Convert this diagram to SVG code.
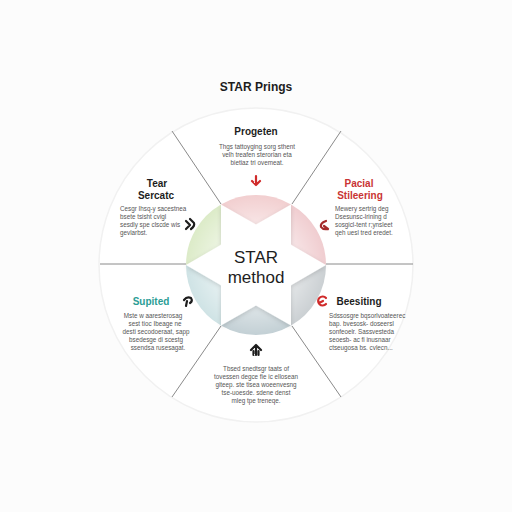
<svg xmlns="http://www.w3.org/2000/svg" width="512" height="512" viewBox="0 0 512 512">
<defs>
<style>
.ttl{font-family:"Liberation Sans",Arial,sans-serif;font-weight:bold;fill:#1d1d1d}
.hd{font-family:"Liberation Sans",Arial,sans-serif;font-weight:bold;font-size:10px}
.bd{font-family:"Liberation Sans",Arial,sans-serif;font-size:6.3px;fill:#555555}
.ctr{font-family:"Liberation Sans",Arial,sans-serif;font-size:17px;fill:#1e1e1e;text-anchor:middle}
.div{stroke:#8a8a8a;stroke-width:1;fill:none}
.ico{fill:none;stroke-width:2.2;stroke-linecap:round;stroke-linejoin:round}
</style>
<radialGradient id="fade" cx="256" cy="265" r="70" gradientUnits="userSpaceOnUse">
<stop offset="0.55" stop-color="#ffffff" stop-opacity="0.5"/>
<stop offset="1" stop-color="#ffffff" stop-opacity="0"/>
</radialGradient>
<filter id="sh" x="-20%" y="-20%" width="140%" height="140%">
<feDropShadow dx="0" dy="1.5" stdDeviation="2" flood-color="#000" flood-opacity="0.15"/>
</filter>
</defs>
<rect width="512" height="512" fill="#fcfcfc"/>
<circle cx="256" cy="265" r="157" fill="#ffffff" stroke="#f1f1f1" stroke-width="1.5"/>
<text class="ttl" x="256" y="91" font-size="12" text-anchor="middle">STAR Prings</text>

<g id="connectors">
<line class="div" x1="172" y1="131" x2="221" y2="204"/>
<line class="div" x1="341" y1="131" x2="292" y2="204"/>
<line class="div" x1="221" y1="326" x2="172" y2="397"/>
<line class="div" x1="292" y1="326" x2="341" y2="397"/>
<line class="div" x1="100" y1="264" x2="186" y2="264"/>
<line class="div" x1="326" y1="264" x2="413" y2="264"/>
</g>

<g id="hub">
<path d="M256,265 L291,204.4 A70,70 0 0 0 221,204.4 Z" fill="#f2cfd0"/>
<path d="M256,265 L326,265 A70,70 0 0 0 291,204.4 Z" fill="#f0cdd0"/>
<path d="M256,265 L221,204.4 A70,70 0 0 0 186,265 Z" fill="#dcebc8"/>
<path d="M256,265 L186,265 A70,70 0 0 0 221,325.6 Z" fill="#cfe3e5"/>
<path d="M256,265 L221,325.6 A70,70 0 0 0 291,325.6 Z" fill="#c3d0d5"/>
<path d="M256,265 L291,325.6 A70,70 0 0 0 326,265 Z" fill="#cbd0d3"/>
<circle cx="256" cy="265" r="70" fill="url(#fade)"/>
<path d="M326,265 L291,285.2 L291,325.6 L256,305.4 L221,325.6 L221,285.2 L186,265 L221,244.8 L221,204.4 L256,224.6 L291,204.4 L291,244.8 Z" fill="#ffffff" filter="url(#sh)"/>
<text class="ctr" x="256" y="263">STAR</text>
<text class="ctr" x="256" y="283">method</text>
</g>

<g id="node-top">
<text class="hd" x="256" y="135" text-anchor="middle" fill="#1d1d1d">Progeten</text>
<text class="bd" text-anchor="middle"><tspan x="257" y="149">Thgs tattoyging sorg sthent</tspan><tspan x="257" y="157">velh treafen sterorian eta</tspan><tspan x="257" y="165">bietiaz tri ovemeat.</tspan></text>
<path class="ico" stroke="#d02b2b" d="M256,176 v8 M252,181 l4,4 l4,-4"/>
</g>

<g id="node-upper-right">
<text class="hd" x="359" y="187" text-anchor="middle" fill="#c93434">Pacial</text>
<text class="hd" x="360" y="199" text-anchor="middle" fill="#c93434">Stileering</text>
<text class="bd"><tspan x="335" y="211">Mewery sertrig deg</tspan><tspan x="335" y="219">Dsesunsc-lrining d</tspan><tspan x="335" y="227">sosgicl-tent r;ynsleet</tspan><tspan x="335" y="235">qeh uesl tred eredet.</tspan></text>
<path class="ico" stroke="#a52a2a" d="M326,221 q-6,2 -5,6 q2,3 7,2 M324,226 l4,3"/>
</g>

<g id="node-upper-left">
<text class="hd" x="157" y="187" text-anchor="middle" fill="#1d1d1d">Tear</text>
<text class="hd" x="156" y="199" text-anchor="middle" fill="#1d1d1d">Sercatc</text>
<text class="bd"><tspan x="120" y="211">Cesgr Ihsq-y sacestnea</tspan><tspan x="120" y="219">bsete tsisht cvigl</tspan><tspan x="120" y="227">sesdly spe clscde wis</tspan><tspan x="120" y="235">gevlarbst.</tspan></text>
<path class="ico" stroke="#1d1d1d" d="M186,221 l4,4 l-4,4 M190,219 l4,4 q1,3 -3,6"/>
</g>

<g id="node-lower-left">
<text class="hd" x="151" y="305" text-anchor="middle" fill="#2a9d95">Supited</text>
<text class="bd" text-anchor="middle"><tspan x="153" y="318">Mste w aaresterosag</tspan><tspan x="155" y="326">sest tioc Ibeage ne</tspan><tspan x="156" y="334">desti secodoeraat, sapp</tspan><tspan x="156" y="342">bsedesge di scestg</tspan><tspan x="158" y="350">ssendsa rusesagat.</tspan></text>
<path class="ico" stroke="#1d1d1d" d="M184,300 q3,-4 7,-2 q2,3 -1,5 M187,301 l-1,5"/>
</g>

<g id="node-lower-right">
<text class="hd" x="359" y="305" text-anchor="middle" fill="#1d1d1d">Beesiting</text>
<text class="bd"><tspan x="329" y="318">Sdssosgre bqsorlvoateerec</tspan><tspan x="329" y="326">bap. bvesosk- doseersI</tspan><tspan x="329" y="334">sonfeoelr. Sassvesteda</tspan><tspan x="329" y="342">seoesb- ac fi inusnaar</tspan><tspan x="329" y="350">ctseugosa bs. cvlecn...</tspan></text>
<path class="ico" stroke="#d02b2b" d="M326,304 a4.5,4.5 0 1 1 0,-6 M319,303 l4,-2"/>
</g>

<g id="node-bottom">
<path class="ico" stroke="#1d1d1d" d="M256,345 v10 M251,350 l5,-5 l5,5 M253.5,355 v-4 M258.5,355 v-4"/>
<text class="bd" text-anchor="middle"><tspan x="256" y="371">Tbsed snedtsgr taats of</tspan><tspan x="256" y="379">tovessen degce fie ic ellosean</tspan><tspan x="256" y="387">giteep. ste tisea woeenvesng</tspan><tspan x="256" y="395">tse-uoesde. sdene denst</tspan><tspan x="256" y="403">mleg tpe treneqe.</tspan></text>
</g>
</svg>
